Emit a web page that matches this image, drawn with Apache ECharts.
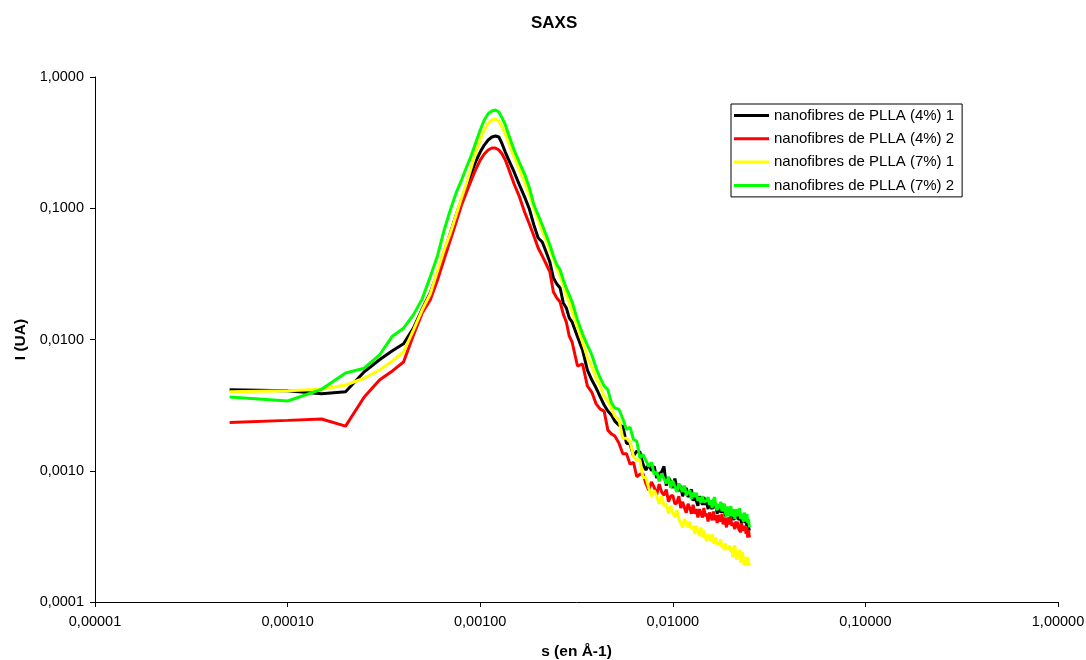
<!DOCTYPE html>
<html>
<head>
<meta charset="utf-8">
<script src="https://cdn.jsdelivr.net/npm/echarts@6/dist/echarts.min.js"></script>
<style>
html,body{margin:0;padding:0;background:#fff;}
#c{width:1086px;height:660px;}
</style>
</head>
<body>
<div id="c"></div>
<script>
const seriesNames = ['nanofibres de PLLA (4%) 1','nanofibres de PLLA (4%) 2','nanofibres de PLLA (7%) 1','nanofibres de PLLA (7%) 2'];
const s = [0.00005,0.0001,0.00015,0.0002,0.00025,0.0003,0.00035,0.0004,0.00045,0.0005,
0.00055,0.0006,0.00065,0.0007,0.00075,0.0008,0.00085,0.0009,0.00095,0.001,
0.00105,0.0011,0.00115,0.0012,0.00125,0.0013,0.00135,0.0014,0.0015,0.0016,
0.0017,0.0018,0.0019,0.002,0.0021,0.0022,0.0023,0.0024,0.0025,0.0026,
0.0027,0.0028,0.0029,0.003,0.0032,0.0034,0.0036,0.0038,0.004,0.0042,
0.0044,0.0046,0.0048,0.005,
0.00525,0.0055,0.00575,0.006,0.00625,0.0065,0.00675,0.007,0.00725,0.0075,0.00775,0.008,0.00825,0.0085,0.00875,0.009,0.00925,0.0095,0.00975,0.01,
0.01025,0.0105,0.01075,0.011,0.01125,0.0115,0.01175,0.012,0.01225,0.0125,0.01275,0.013,0.01325,0.0135,0.01375,0.014,0.01425,0.0145,0.01475,0.015,
0.01525,0.0155,0.01575,0.016,0.01625,0.0165,0.01675,0.017,0.01725,0.0175,0.01775,0.018,0.01825,0.0185,0.01875,0.019,0.01925,0.0195,0.01975,0.02,
0.02025,0.0205,0.02075,0.021,0.02125,0.0215,0.02175,0.022,0.02225,0.0225,0.02275,0.023,0.02325,0.0235,0.02375,0.024,0.02425,0.0245,0.02475,0.025];
const pla4_1 = [0.00414,0.00407,0.00386,0.00400,0.00568,0.00701,0.00821,0.00928,0.0122,0.0171,
0.0226,0.0321,0.0464,0.0648,0.0888,0.116,0.148,0.186,0.229,0.268,
0.303,0.331,0.349,0.355,0.349,0.309,0.268,0.237,0.189,0.150,
0.122,0.0987,0.0745,0.0593,0.0553,0.0464,0.0389,0.0294,0.0265,0.0247,
0.0190,0.0174,0.0146,0.0136,0.0105,0.00828,0.00586,0.00491,0.00427,0.00365,
0.00317,0.00285,0.00266,0.00239,
0.00222,0.00218,0.00162,0.00160,0.00130,0.00141,0.00139,0.00112,0.00101,0.00112,0.00100,0.00108,0.00088,0.00095,0.00098,0.00108,0.00077,0.00089,0.00083,0.00074,
0.00087,0.00074,0.00070,0.00077,0.00064,0.00071,0.00074,0.00063,0.00064,0.00072,0.00059,0.00065,0.00059,0.00054,0.00064,0.00059,0.00055,0.00063,0.00055,0.00058,
0.00051,0.00059,0.00054,0.00051,0.00060,0.00052,0.00055,0.00047,0.00055,0.00052,0.00048,0.00056,0.00048,0.00052,0.00045,0.00053,0.00048,0.00046,0.00052,0.00044,
0.00049,0.00045,0.00042,0.00049,0.00046,0.00043,0.00049,0.00042,0.00044,0.00047,0.00040,0.00045,0.00042,0.00046,0.00040,0.00042,0.00038,0.00043,0.00037,0.00035];
const pla4_2 = [0.00233,0.00242,0.00248,0.00219,0.00365,0.00491,0.00576,0.00674,0.0108,0.0159,
0.0200,0.0284,0.0411,0.0573,0.0786,0.106,0.133,0.164,0.199,0.233,
0.259,0.278,0.288,0.288,0.278,0.259,0.233,0.203,0.153,0.122,
0.0936,0.0759,0.0615,0.0498,0.0433,0.0376,0.0327,0.0230,0.0207,0.0193,
0.0156,0.0136,0.0106,0.00957,0.00628,0.00651,0.00443,0.00396,0.00323,0.00295,
0.00285,0.00204,0.00191,0.00184,
0.00163,0.00135,0.00135,0.00112,0.00116,0.00090,0.00094,0.00095,0.00080,0.00071,0.00082,0.00075,0.00066,0.00079,0.00069,0.00065,0.00072,0.00058,0.00064,0.00065,
0.00056,0.00057,0.00064,0.00052,0.00058,0.00052,0.00048,0.00056,0.00052,0.00047,0.00055,0.00047,0.00051,0.00044,0.00051,0.00047,0.00044,0.00052,0.00045,0.00047,
0.00041,0.00048,0.00045,0.00042,0.00049,0.00042,0.00046,0.00040,0.00046,0.00043,0.00041,0.00047,0.00039,0.00044,0.00041,0.00037,0.00044,0.00042,0.00039,0.00044,
0.00038,0.00040,0.00041,0.00036,0.00041,0.00037,0.00041,0.00036,0.00037,0.00034,0.00040,0.00035,0.00036,0.00036,0.00038,0.00033,0.00037,0.00031,0.00035,0.00031];
const pla7_1 = [0.00400,0.00407,0.00417,0.00450,0.00507,0.00586,0.00687,0.00803,0.0118,0.0168,
0.0222,0.0333,0.0481,0.0648,0.0888,0.120,0.156,0.206,0.268,0.331,
0.395,0.446,0.470,0.479,0.462,0.416,0.368,0.319,0.246,0.196,
0.158,0.126,0.100,0.0814,0.0671,0.0573,0.0481,0.0411,0.0351,0.0305,
0.0260,0.0218,0.0190,0.0162,0.0125,0.00957,0.00736,0.00617,0.00507,0.00443,
0.00370,0.00340,0.00300,0.00261,
0.00246,0.00177,0.00177,0.00166,0.00129,0.00120,0.00121,0.00089,0.00089,0.00074,0.00064,0.00071,0.00064,0.00056,0.00064,0.00054,0.00056,0.00047,0.00054,0.00048,
0.00044,0.00050,0.00043,0.00044,0.00037,0.00043,0.00040,0.00037,0.00041,0.00036,0.00038,0.00033,0.00038,0.00035,0.00032,0.00037,0.00031,0.00035,0.00031,0.00029,
0.00033,0.00032,0.00029,0.00033,0.00028,0.00029,0.00031,0.00027,0.00029,0.00027,0.00030,0.00026,0.00027,0.00025,0.00028,0.00025,0.00026,0.00025,0.00027,0.00024,
0.00026,0.00022,0.00026,0.00027,0.00023,0.00021,0.00024,0.00022,0.00025,0.00020,0.00022,0.00024,0.00021,0.00019,0.00022,0.00021,0.00019,0.00022,0.00020,0.00019];
const pla7_2 = [0.00365,0.00340,0.00417,0.00555,0.00604,0.00762,0.0106,0.0122,0.0154,0.0204,
0.0299,0.0433,0.0683,0.0970,0.131,0.164,0.206,0.253,0.319,0.395,
0.470,0.525,0.551,0.560,0.541,0.487,0.433,0.368,0.278,0.222,
0.182,0.143,0.106,0.0888,0.0745,0.0626,0.0525,0.0433,0.0370,0.0339,
0.0284,0.0247,0.0218,0.0193,0.0141,0.0110,0.00908,0.00762,0.00604,0.00507,
0.00443,0.00414,0.00330,0.00300,
0.00294,0.00249,0.00206,0.00215,0.00173,0.00168,0.00125,0.00133,0.00120,0.00108,0.00116,0.00094,0.00098,0.00083,0.00095,0.00087,0.00080,0.00090,0.00074,0.00084,
0.00076,0.00069,0.00080,0.00074,0.00069,0.00077,0.00065,0.00068,0.00071,0.00061,0.00068,0.00063,0.00068,0.00059,0.00063,0.00057,0.00064,0.00058,0.00059,0.00059,
0.00063,0.00055,0.00060,0.00052,0.00060,0.00063,0.00053,0.00050,0.00056,0.00052,0.00058,0.00049,0.00053,0.00056,0.00048,0.00045,0.00053,0.00051,0.00045,0.00054,
0.00048,0.00045,0.00051,0.00043,0.00048,0.00051,0.00045,0.00046,0.00052,0.00043,0.00047,0.00044,0.00041,0.00048,0.00045,0.00041,0.00047,0.00040,0.00042,0.00037];
const colors = ['#000000','#ff0000','#ffff00','#00ff00'];
const allSeries = [pla4_1, pla4_2, pla7_1, pla7_2];

const FONT = 'Liberation Sans, Arial, sans-serif';
const chart = echarts.init(document.getElementById('c'), null, {renderer:'canvas'});
chart.setOption({
  animation: false,
  backgroundColor: '#ffffff',
  title: {
    text: 'SAXS', left: 526, top: 10,
    textStyle: {fontFamily: FONT, fontSize: 17, fontWeight: 'bold', color: '#000'}
  },
  legend: {
    orient: 'vertical', left: 731, top: 104,
    padding: [4, 8, 4, 3],
    icon: 'rect',
    itemWidth: 35, itemHeight: 3, itemGap: 8.3,
    borderColor: '#000', borderWidth: 1,
    textStyle: {fontFamily: FONT, fontSize: 15, color: '#000'},
    data: seriesNames
  },
  grid: {left: 95, right: 28, top: 77, bottom: 58, containLabel: false, outerBoundsMode: 'none'},
  xAxis: {
    type: 'log', logBase: 10, min: 0.00001, max: 1,
    name: 's (en Å-1)', nameLocation: 'middle', nameGap: 42,
    nameTextStyle: {fontFamily: FONT, fontSize: 15.5, fontWeight: 'bold', color: '#000'},
    axisLine: {show: true, lineStyle: {color: '#000', width: 1}},
    axisTick: {show: true, length: 5, inside: false, lineStyle: {color: '#000'}},
    minorTick: {show: false},
    splitLine: {show: false},
    axisLabel: {
      fontFamily: FONT, fontSize: 14.5, color: '#000', margin: 12,
      formatter: v => Number(v).toFixed(5).replace('.', ',')
    }
  },
  yAxis: {
    type: 'log', logBase: 10, min: 0.0001, max: 1,
    name: 'I (UA)', nameLocation: 'middle', nameGap: 64, nameRotate: 90,
    nameTextStyle: {fontFamily: FONT, fontSize: 15.5, fontWeight: 'bold', color: '#000'},
    axisLine: {show: true, lineStyle: {color: '#000', width: 1}},
    axisTick: {show: true, length: 5, inside: false, lineStyle: {color: '#000'}},
    minorTick: {show: false},
    splitLine: {show: false},
    axisLabel: {
      fontFamily: FONT, fontSize: 14.5, color: '#000', margin: 11,
      formatter: v => Number(v).toFixed(4).replace('.', ',')
    }
  },
  series: allSeries.map((vals, i) => ({
    name: seriesNames[i],
    type: 'line',
    symbol: 'none',
    smooth: false,
    color: colors[i],
    lineStyle: {color: colors[i], width: 3},
    data: s.map((x, k) => [x, vals[k]])
  }))
});
</script>
</body>
</html>
